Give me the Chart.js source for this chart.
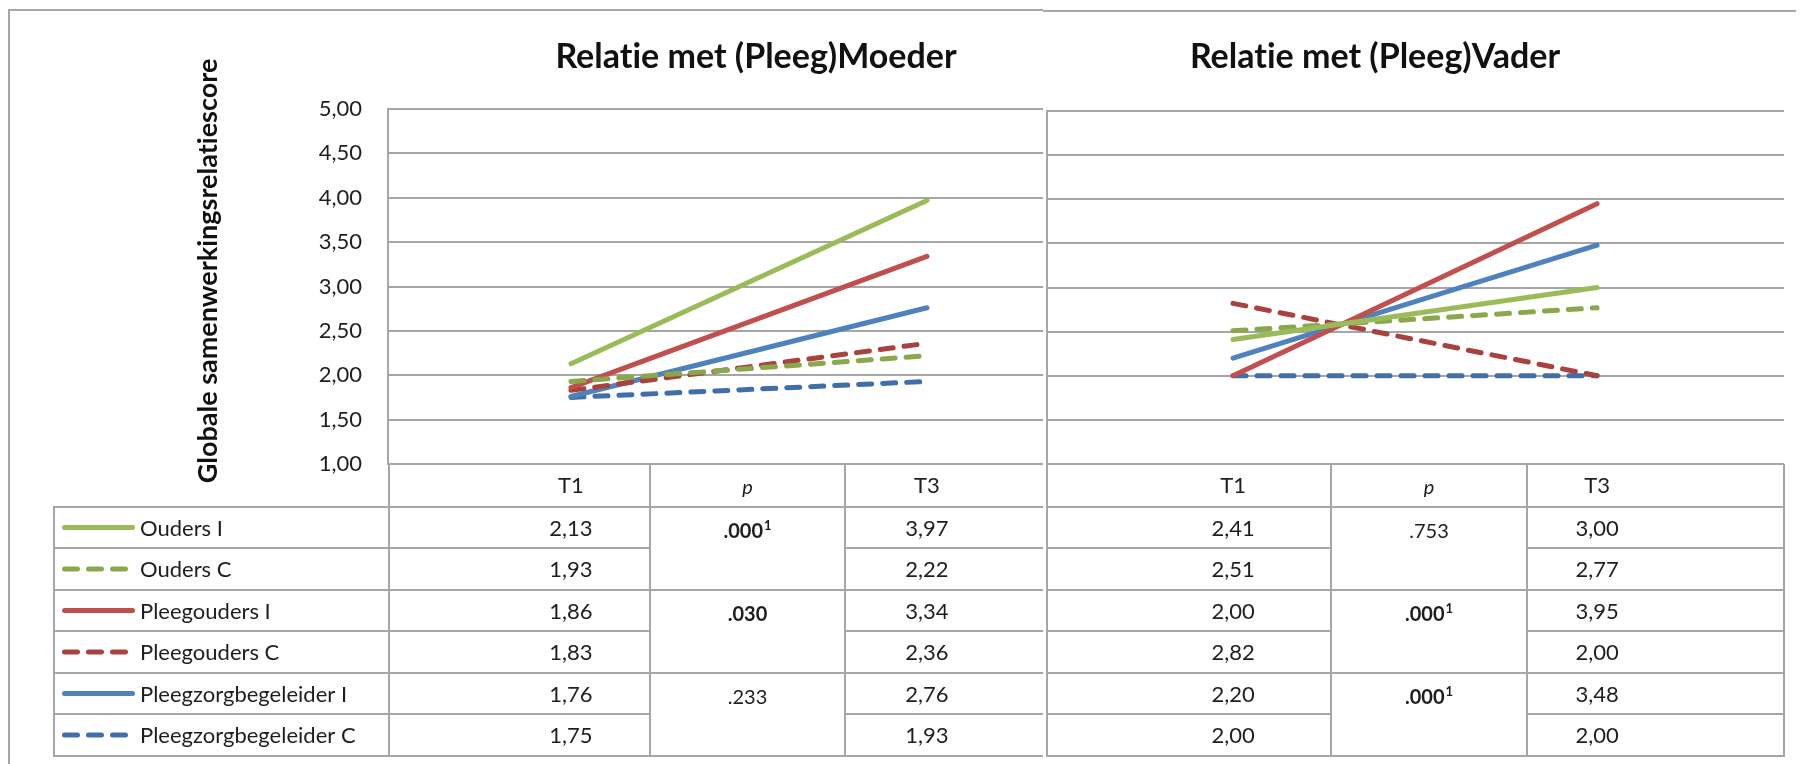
<!DOCTYPE html>
<html>
<head>
<meta charset="utf-8">
<script src="https://cdn.jsdelivr.net/npm/chart.js@4.4.1/dist/chart.umd.min.js"></script>
<style>
  html, body { margin: 0; padding: 0; background: #fff; }
  #wrap { position: relative; width: 1804px; height: 764px; }
  #wrap canvas { position: absolute; left: 0; top: 0; }
</style>
</head>
<body>
<div id="wrap">
  <canvas id="moeder" width="1804" height="764"></canvas>
  <canvas id="vader" width="1804" height="764"></canvas>
</div>
<script>
// data
const groups = ["Ouders I", "Ouders C", "Pleegouders I", "Pleegouders C", "Pleegzorgbegeleider I", "Pleegzorgbegeleider C"];
const timeLabels = ["T1", "T3"];
const timeValues = [1, 3];
const yTicks = ["1,00", "1,50", "2,00", "2,50", "3,00", "3,50", "4,00", "4,50", "5,00"];

const moederT1 = [2.13, 1.93, 1.86, 1.83, 1.76, 1.75];
const moederT3 = [3.97, 2.22, 3.34, 2.36, 2.76, 1.93];
const moederP = [".000", ".030", ".233"];
const moederPNote = ["1", "", ""];
const moederPBold = [true, true, false];

const vaderT1 = [2.41, 2.51, 2.00, 2.82, 2.20, 2.00];
const vaderT3 = [3.00, 2.77, 3.95, 2.00, 3.48, 2.00];
const vaderP = [".753", ".000", ".000"];
const vaderPNote = ["", "1", "1"];
const vaderPBold = [false, true, true];

// styles
const seriesColors = ["#9bbb59", "#8aa84b", "#c0504d", "#a9423f", "#4f81bd", "#3f6ea9"];
const seriesDashed = [false, true, false, true, false, true];
const GRID = "#a6a6a6";
const TEXT = "#1e1e1e";
const FONT = "Lato, 'Open Sans', sans-serif";

const HEADER_TOP = 464;
const ROW_LINES = [507, 548, 590, 631, 673, 714, 756];

const fmt = (v) => v.toFixed(2).replace(".", ",");
// keep Lato from joining "ti" into a ligature
const noLig = (s) => s.replace(/ti/g, "t\u200Ci");

const line = (ctx, x1, y1, x2, y2) => {
    ctx.beginPath();
    ctx.moveTo(x1, y1);
    ctx.lineTo(x2, y2);
    ctx.stroke();
};

const drawP = (ctx, text, note, bold, cx, cy) => {
    const main = `${bold ? "bold " : ""}20px ${FONT}`;
    const small = `${bold ? "bold " : ""}13px ${FONT}`;
    ctx.font = main;
    const w = ctx.measureText(text).width;
    ctx.font = small;
    const nw = note ? ctx.measureText(note).width + 1 : 0;
    const x0 = cx - (w + nw) / 2;
    ctx.textAlign = "left";
    ctx.font = main;
    ctx.fillText(text, x0, cy);
    if (note) {
        ctx.font = small;
        ctx.fillText(note, x0 + w + 1, cy - 6);
    }
};

const panels = [
    {
        id: "moeder",
        title: "Relatie met (Pleeg)Moeder",
        titleX: 756,
        t1: moederT1, t3: moederT3,
        p: moederP, pNote: moederPNote, pBold: moederPBold,
        left: 388, right: 1043, top: 109, axisWidth: 388,
        xMin: -0.028, xMax: 3.652,
        cols: [389, 650, 845], pCol: [650, 845],
        rowLeft: 54, withLegend: true
    },
    {
        id: "vader",
        title: "Relatie met (Pleeg)Vader",
        titleX: 1375,
        t1: vaderT1, t3: vaderT3,
        p: vaderP, pNote: vaderPNote, pBold: vaderPBold,
        left: 1047, right: 1784, top: 111, axisWidth: 0,
        xMin: -0.022, xMax: 4.027,
        cols: [1047, 1331, 1527, 1784], pCol: [1331, 1527],
        rowLeft: 1047, withLegend: false
    }
];

const tablePlugin = (panel) => ({
    id: "table-" + panel.id,
    afterDraw(chart) {
        const ctx = chart.ctx;
        const xs = chart.scales.x;
        const x1 = xs.getPixelForValue(timeValues[0]);
        const x3 = xs.getPixelForValue(timeValues[1]);
        ctx.save();

        // frame
        ctx.strokeStyle = GRID;
        ctx.lineWidth = 2;
        if (panel.withLegend) {
            line(ctx, 9, 10, 9, 764);
            line(ctx, 8, 10, 1043, 10);
        } else {
            line(ctx, 1043, 11, 1796, 11);
        }

        // table lines
        panel.cols.forEach(x => line(ctx, x, HEADER_TOP, x, ROW_LINES[6] + 1));
        if (panel.withLegend) {
            line(ctx, panel.rowLeft, ROW_LINES[0] - 1, panel.rowLeft, ROW_LINES[6] + 1);
        }
        ROW_LINES.forEach((y, i) => {
            if (i % 2 === 0) {
                line(ctx, panel.rowLeft, y, panel.right, y);
            } else {
                line(ctx, panel.rowLeft, y, panel.pCol[0], y);
                line(ctx, panel.pCol[1], y, panel.right, y);
            }
        });

        // titles
        ctx.fillStyle = "#111";
        ctx.textBaseline = "alphabetic";
        ctx.textAlign = "center";
        ctx.font = `bold 34px ${FONT}`;
        ctx.fillText(noLig(panel.title), panel.titleX, 68);

        if (panel.withLegend) {
            ctx.save();
            ctx.translate(208, 271);
            ctx.rotate(-Math.PI / 2);
            ctx.font = `bold 27px ${FONT}`;
            ctx.textBaseline = "middle";
            ctx.fillText(noLig("Globale samenwerkingsrelatiescore"), 0, 0);
            ctx.restore();
        }

        // header
        ctx.fillStyle = TEXT;
        ctx.textBaseline = "middle";
        ctx.font = `22px ${FONT}`;
        ctx.fillText(timeLabels[0], x1, 486);
        ctx.fillText(timeLabels[1], x3, 486);
        ctx.font = `italic 20px ${FONT}`;
        ctx.fillText("p", (panel.pCol[0] + panel.pCol[1]) / 2, 488);

        // rows
        groups.forEach((name, i) => {
            const cy = (ROW_LINES[i] + ROW_LINES[i + 1]) / 2 + 1;
            ctx.textAlign = "center";
            ctx.font = `22px ${FONT}`;
            ctx.fillText(fmt(panel.t1[i]), x1, cy);
            ctx.fillText(fmt(panel.t3[i]), x3, cy);

            if (panel.withLegend) {
                const ds = chart.data.datasets[i];
                ctx.save();
                ctx.strokeStyle = ds.borderColor;
                ctx.lineWidth = 5;
                ctx.lineCap = "round";
                ctx.setLineDash(ds.borderDash || []);
                line(ctx, 64.5, cy - 1, ds.borderDash ? 125.5 : 132.5, cy - 1);
                ctx.restore();
                ctx.textAlign = "left";
                ctx.font = `22px ${FONT}`;
                ctx.fillText(name, 140, cy);
            }
        });

        panel.p.forEach((txt, g) => {
            const cy = (ROW_LINES[g * 2] + ROW_LINES[g * 2 + 1]) / 2 + 4;
            drawP(ctx, txt, panel.pNote[g], panel.pBold[g], (panel.pCol[0] + panel.pCol[1]) / 2, cy);
        });

        ctx.restore();
    }
});

panels.forEach(panel => {
    const datasets = groups.map((name, i) => ({
        label: name,
        data: timeValues.map((t, k) => ({ x: t, y: (k === 0 ? panel.t1 : panel.t3)[i] })),
        borderColor: seriesColors[i],
        borderWidth: 5,
        borderCapStyle: "round",
        borderDash: seriesDashed[i] ? [13, 11] : undefined,
        pointRadius: 0,
        tension: 0,
        fill: false
    }));

    new Chart(document.getElementById(panel.id), {
        type: "line",
        data: { datasets },
        options: {
            responsive: false,
            animation: false,
            layout: {
                padding: {
                    left: panel.left - panel.axisWidth,
                    right: 1804 - panel.right,
                    top: panel.top,
                    bottom: 764 - HEADER_TOP
                }
            },
            plugins: {
                legend: { display: false },
                tooltip: { enabled: false }
            },
            scales: {
                x: { type: "linear", display: false, min: panel.xMin, max: panel.xMax },
                y: {
                    min: 1,
                    max: 5,
                    ticks: {
                        display: panel.withLegend,
                        stepSize: 0.5,
                        padding: 26,
                        color: TEXT,
                        font: { family: FONT, size: 22 },
                        callback: (v, i) => yTicks[i]
                    },
                    grid: { color: GRID, lineWidth: 2, drawTicks: false },
                    border: { display: true, color: GRID, width: 2 },
                    afterFit: (scale) => { scale.width = panel.axisWidth; }
                }
            }
        },
        plugins: [tablePlugin(panel)]
    });
});
</script>
</body>
</html>
